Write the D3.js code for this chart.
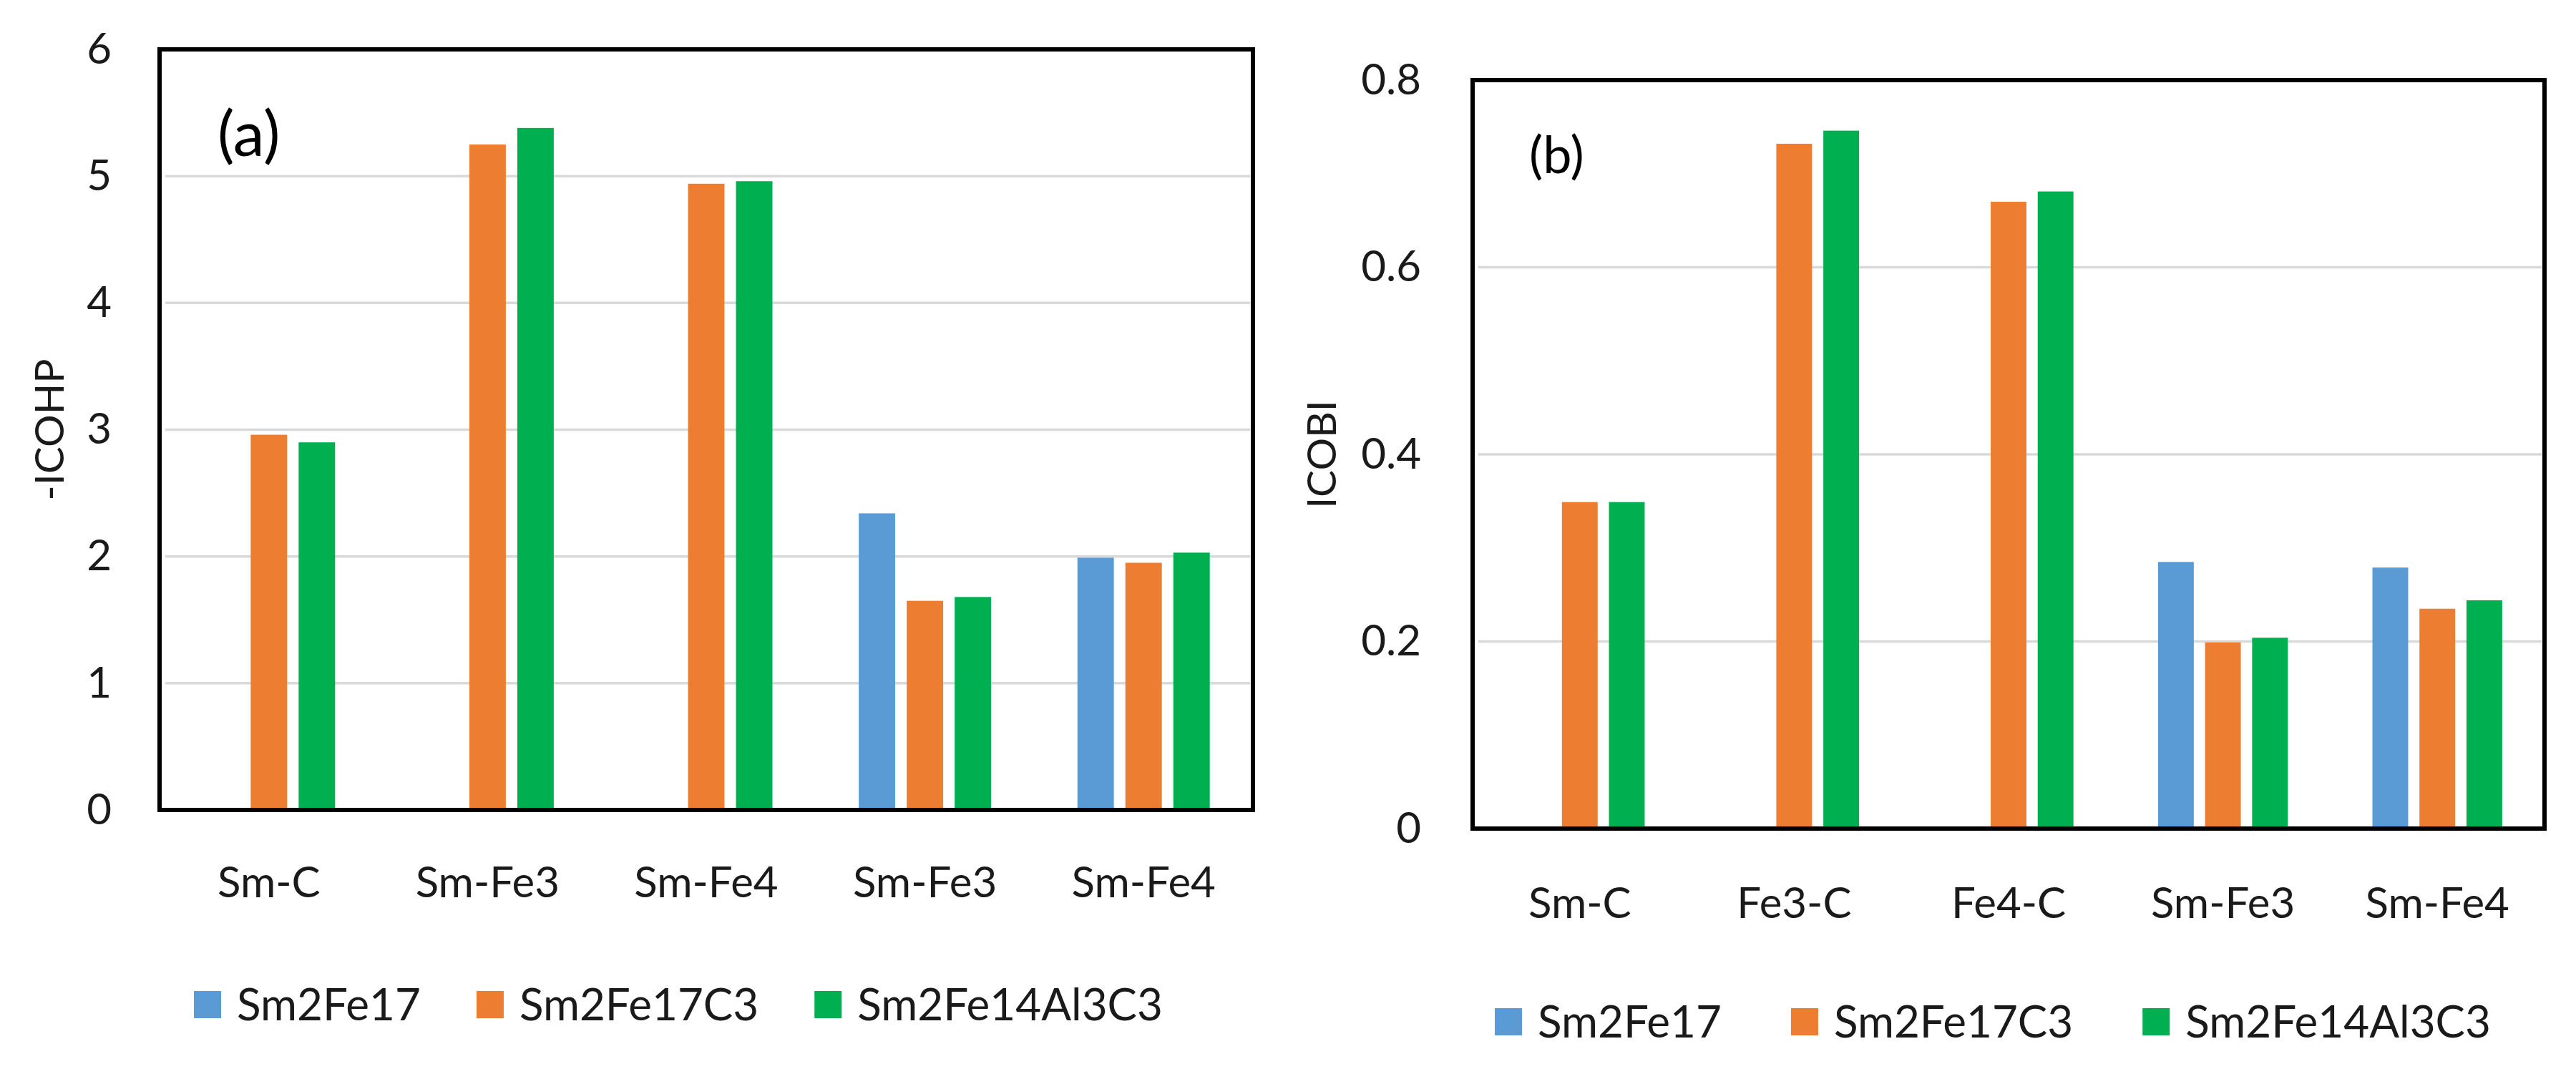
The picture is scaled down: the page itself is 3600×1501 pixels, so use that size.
<!DOCTYPE html>
<html>
<head>
<meta charset="utf-8">
<script src="https://cdn.jsdelivr.net/npm/d3@7"></script>
<style>
  body { margin: 0; background: #fff; }
  svg { display: block; font-family: Lato, "Open Sans", sans-serif; }
</style>
</head>
<body>
<svg id="chart" width="3600" height="1501"></svg>
<script>
// series shared by both panels
const seriesNames = ["Sm2Fe17", "Sm2Fe17C3", "Sm2Fe14Al3C3"];
const seriesColors = ["#5B9BD5", "#ED7D31", "#00B050"];

// panel (a): -ICOHP
const catsA = ["Sm-C", "Sm-Fe3", "Sm-Fe4", "Sm-Fe3", "Sm-Fe4"];
const sm2fe17A = [null, null, null, 2.34, 1.99];
const sm2fe17c3A = [2.96, 5.25, 4.94, 1.65, 1.95];
const sm2fe14al3c3A = [2.90, 5.38, 4.96, 1.68, 2.03];
const ticksA = [0, 1, 2, 3, 4, 5, 6];

// panel (b): ICOBI
const catsB = ["Sm-C", "Fe3-C", "Fe4-C", "Sm-Fe3", "Sm-Fe4"];
const sm2fe17B = [null, null, null, 0.285, 0.279];
const sm2fe17c3B = [0.349, 0.732, 0.670, 0.199, 0.235];
const sm2fe14al3c3B = [0.349, 0.746, 0.681, 0.204, 0.244];
const ticksB = [0, 0.2, 0.4, 0.6, 0.8];

const svg = d3.select("#chart");
svg.append("rect").attr("width", 3600).attr("height", 1501).attr("fill", "#fff");

function drawPanel(p) {
  const g = svg.append("g");
  const idx = d3.range(p.cats.length);

  const x0 = d3.scaleBand().domain(idx).range([p.left, p.right]);
  const x1 = d3.scaleBand()
    .domain(d3.range(seriesNames.length))
    .range([0, x0.bandwidth()])
    .paddingInner(0.24)
    .paddingOuter(0.9);
  const y = d3.scaleLinear().domain([0, p.max]).range([p.bottom, p.top]);

  // gridlines
  g.selectAll(".grid")
    .data(p.ticks.filter(t => t > 0 && t < p.max))
    .join("line")
    .attr("x1", p.left + 8)
    .attr("x2", p.right - 4)
    .attr("y1", d => y(d))
    .attr("y2", d => y(d))
    .attr("stroke", "#D9D9D9")
    .attr("stroke-width", 3.5);

  // bars
  const rows = idx.map(i => p.series.map(s => s[i]));
  g.selectAll(".grp")
    .data(rows)
    .join("g")
    .attr("transform", (d, i) => `translate(${x0(i)},0)`)
    .selectAll("rect")
    .data(d => d.map((v, k) => ({ v, k })).filter(e => e.v != null))
    .join("rect")
    .attr("x", d => x1(d.k))
    .attr("width", x1.bandwidth())
    .attr("y", d => y(d.v))
    .attr("height", d => y(0) - y(d.v))
    .attr("fill", d => seriesColors[d.k]);

  // frame
  g.append("rect")
    .attr("x", p.left).attr("y", p.top)
    .attr("width", p.right - p.left).attr("height", p.bottom - p.top)
    .attr("fill", "none").attr("stroke", "#000").attr("stroke-width", 6);

  // y axis
  const yAxis = g.append("g")
    .attr("transform", `translate(${p.left},0)`)
    .call(d3.axisLeft(y).tickValues(p.ticks).tickFormat(d => String(d)).tickSize(0).tickPadding(p.yPad));
  yAxis.select(".domain").remove();
  yAxis.selectAll("text").attr("font-size", 60).attr("fill", "#1a1a1a").attr("font-family", "Lato");

  // x axis
  const xAxis = g.append("g")
    .attr("transform", `translate(0,${p.bottom})`)
    .call(d3.axisBottom(x0).tickFormat(i => p.cats[i]).tickSize(0));
  xAxis.select(".domain").remove();
  xAxis.selectAll("text")
    .attr("y", p.xLabelY).attr("dy", "0.35em")
    .attr("font-size", 60).attr("fill", "#1a1a1a").attr("font-family", "Lato");

  // axis title
  g.append("text")
    .attr("transform", `translate(${p.titleX},${(p.top + p.bottom) / 2}) rotate(-90)`)
    .attr("text-anchor", "middle").attr("dy", "0.35em")
    .attr("font-size", 57).attr("fill", "#1a1a1a")
    .text(p.title);

  // panel tag
  g.append("text")
    .attr("x", p.tagX).attr("y", p.tagY).attr("dy", "0.35em")
    .attr("font-size", p.tagSize).attr("fill", "#000")
    .text(p.tag);

  // legend
  let lx = p.legendX;
  seriesNames.forEach((name, k) => {
    g.append("rect")
      .attr("x", lx).attr("y", p.legendY - 19)
      .attr("width", 38).attr("height", 38)
      .attr("fill", seriesColors[k]);
    const t = g.append("text")
      .attr("x", lx + 60).attr("y", p.legendY).attr("dy", "0.36em")
      .attr("font-size", 62).attr("fill", "#1a1a1a")
      .text(name);
    lx += 60 + t.node().getComputedTextLength() + p.legendGap;
  });
}

drawPanel({
  cats: catsA, series: [sm2fe17A, sm2fe17c3A, sm2fe14al3c3A], ticks: ticksA, max: 6,
  left: 223, right: 1751, top: 69, bottom: 1132,
  yPad: 67, xLabelY: 101, title: "-ICOHP", titleX: 69,
  tag: "(a)", tagX: 304, tagY: 187, tagSize: 88,
  legendX: 271, legendY: 1404, legendGap: 78
});

drawPanel({
  cats: catsB, series: [sm2fe17B, sm2fe17c3B, sm2fe14al3c3B], ticks: ticksB, max: 0.8,
  left: 2058, right: 3556, top: 112, bottom: 1158,
  yPad: 72, xLabelY: 104, title: "ICOBI", titleX: 1847,
  tag: "(b)", tagX: 2137, tagY: 217, tagSize: 72,
  legendX: 2089, legendY: 1428, legendGap: 97
});
</script>
</body>
</html>
